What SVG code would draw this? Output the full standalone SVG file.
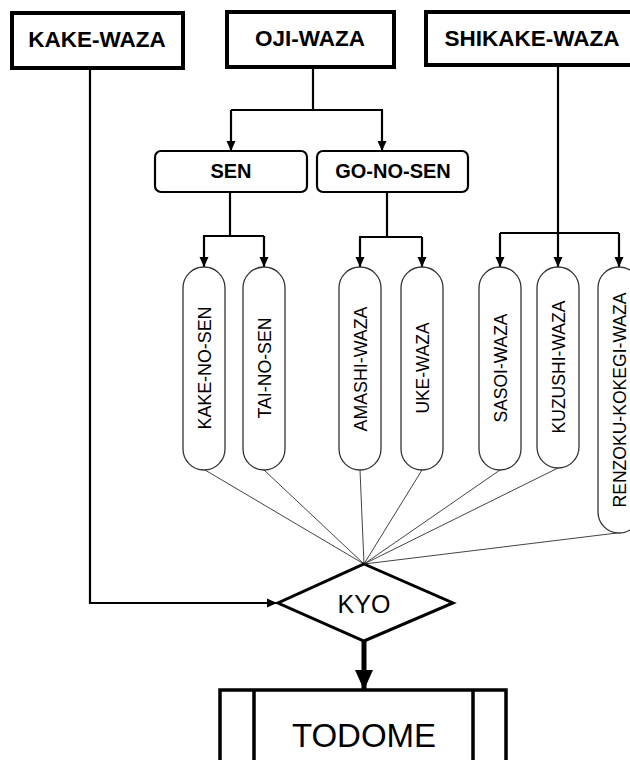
<svg xmlns="http://www.w3.org/2000/svg" width="630" height="760" viewBox="0 0 630 760">
<style>
text{font-family:"Liberation Sans",Arial,sans-serif;fill:#000}
.top rect{fill:#fff;stroke:#000;stroke-width:4}
.top text{font-size:22.5px;font-weight:bold;text-anchor:middle}
.sub rect{fill:#fff;stroke:#000;stroke-width:2.2}
.sub text{font-size:20px;font-weight:bold;text-anchor:middle}
.pill rect{fill:#fff;stroke:#333;stroke-width:1.3}
.pill text{font-size:19px;text-anchor:middle}
.conn{fill:none;stroke:#000;stroke-width:2.2}
.fan{fill:none;stroke:#444;stroke-width:1}
</style>
<defs>
<marker id="ah" markerUnits="userSpaceOnUse" markerWidth="10" markerHeight="10" viewBox="0 0 10 10" refX="10" refY="5" orient="auto">
<path d="M0,0.5 L10,5 L0,9.5 Z" fill="#000"/>
</marker>
<marker id="ahb" markerUnits="userSpaceOnUse" markerWidth="20" markerHeight="18" viewBox="0 0 20 18" refX="20" refY="9" orient="auto">
<path d="M0,0 L20,9 L0,18 Z" fill="#000"/>
</marker>
</defs>
<rect width="630" height="760" fill="#fff"/>
<g id="connectors">
<path class="conn" d="M90,68 V603 H277" marker-end="url(#ah)"/>
<path class="conn" d="M313,67 V110"/>
<path class="conn" d="M231,110 H383"/>
<path class="conn" d="M231,110 V151" marker-end="url(#ah)"/>
<path class="conn" d="M382,110 V151" marker-end="url(#ah)"/>
<path class="conn" d="M230,192 V236"/>
<path class="conn" d="M203,236 H264"/>
<path class="conn" d="M204,236 V267" marker-end="url(#ah)"/>
<path class="conn" d="M264,236 V267" marker-end="url(#ah)"/>
<path class="conn" d="M387,192 V237"/>
<path class="conn" d="M359,237 H422"/>
<path class="conn" d="M360,237 V267" marker-end="url(#ah)"/>
<path class="conn" d="M422,237 V267" marker-end="url(#ah)"/>
<path class="conn" d="M558,65 V267" marker-end="url(#ah)"/>
<path class="conn" d="M500,233 H619"/>
<path class="conn" d="M500,233 V267" marker-end="url(#ah)"/>
<path class="conn" d="M619,233 V267" marker-end="url(#ah)"/>
<path class="fan" d="M205,470 L364,564 M264,470 L364,564 M360,470 L364,564 M422,470 L364,564 M500,470 L364,564 M558,468 L364,564 M617,533 L364,564"/>
<path d="M364,641 V690" fill="none" stroke="#000" stroke-width="5" marker-end="url(#ahb)"/>
</g>
<g id="kake-waza" class="top"><rect x="12" y="13" width="171" height="55"/><text x="97" y="47">KAKE-WAZA</text></g>
<g id="oji-waza" class="top"><rect x="227" y="12" width="167" height="55"/><text x="310" y="46">OJI-WAZA</text></g>
<g id="shikake-waza" class="top"><rect x="426" y="12" width="220" height="53"/><text x="532" y="46">SHIKAKE-WAZA</text></g>
<g id="sen" class="sub"><rect x="155" y="151" width="152" height="41" rx="6"/><text x="231" y="178">SEN</text></g>
<g id="go-no-sen" class="sub"><rect x="317" y="151" width="151" height="41" rx="6"/><text x="393" y="178">GO-NO-SEN</text></g>
<g id="kake-no-sen" class="pill"><rect x="183" y="267" width="42" height="203" rx="21"/><text transform="translate(204,368) rotate(-90)" y="6.8" textLength="123" lengthAdjust="spacingAndGlyphs">KAKE-NO-SEN</text></g>
<g id="tai-no-sen" class="pill"><rect x="243" y="267" width="42" height="203" rx="21"/><text transform="translate(264,368) rotate(-90)" y="6.8" textLength="101" lengthAdjust="spacingAndGlyphs">TAI-NO-SEN</text></g>
<g id="amashi-waza" class="pill"><rect x="339" y="267" width="42" height="203" rx="21"/><text transform="translate(360,369) rotate(-90)" y="6.8" textLength="125" lengthAdjust="spacingAndGlyphs">AMASHI-WAZA</text></g>
<g id="uke-waza" class="pill"><rect x="401" y="267" width="42" height="203" rx="21"/><text transform="translate(422,368) rotate(-90)" y="6.8" textLength="91" lengthAdjust="spacingAndGlyphs">UKE-WAZA</text></g>
<g id="sasoi-waza" class="pill"><rect x="479" y="267" width="42" height="203" rx="21"/><text transform="translate(500,368) rotate(-90)" y="6.8" textLength="109" lengthAdjust="spacingAndGlyphs">SASOI-WAZA</text></g>
<g id="kuzushi-waza" class="pill"><rect x="537" y="267" width="42" height="201" rx="21"/><text transform="translate(558,367) rotate(-90)" y="6.8" textLength="133" lengthAdjust="spacingAndGlyphs">KUZUSHI-WAZA</text></g>
<g id="renzoku-kokegi-waza" class="pill"><rect x="598" y="267" width="42" height="266" rx="21"/><text transform="translate(619,400) rotate(-90)" y="6.8" textLength="215" lengthAdjust="spacingAndGlyphs">RENZOKU-KOKEGI-WAZA</text></g>
<g id="kyo"><path d="M364,564 L453,603 L364,641 L278,603 Z" fill="#fff" stroke="#000" stroke-width="3"/><text x="364" y="613" font-size="25" text-anchor="middle">KYO</text></g>
<g id="todome"><rect x="220" y="690" width="286" height="90" fill="#fff" stroke="#000" stroke-width="3.5"/><path d="M254,690 V760 M473,690 V760" stroke="#000" stroke-width="3.5"/><text x="364" y="747" font-size="33" text-anchor="middle">TODOME</text></g>
</svg>
